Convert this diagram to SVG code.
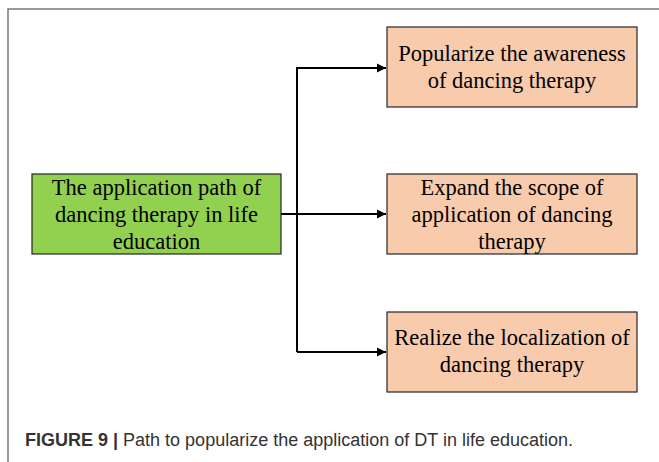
<svg xmlns="http://www.w3.org/2000/svg" width="659" height="462" viewBox="0 0 659 462">
<style>
.peach{fill:#F8CBAD;stroke:#262626;stroke-width:1.2}
.green{fill:#92D050;stroke:#262626;stroke-width:1.2}
.t{font-family:"Liberation Serif","Times New Roman",serif;font-size:22.5px;fill:#000;text-anchor:middle}
.c{stroke:#000;stroke-width:2;fill:none}
.cap{font-family:"Liberation Sans",Arial,sans-serif;font-size:18px;fill:#333}
</style>
<defs>
<marker id="ah" markerWidth="10" markerHeight="10" refX="9" refY="5" orient="auto" markerUnits="userSpaceOnUse">
<path d="M0,0.5 L9,5 L0,9.5 Z" fill="#000"/>
</marker>
</defs>
<rect width="659" height="462" fill="#fff"/>
<path d="M8,462 V9 H659" fill="none" stroke="#777" stroke-width="1.5"/>
<g id="connectors">
<path class="c" d="M281,214 H386" marker-end="url(#ah)"/>
<path class="c" d="M297,352 V68 H386" marker-end="url(#ah)"/>
<path class="c" d="M297,352 H386" marker-end="url(#ah)"/>
</g>
<g id="root">
<rect class="green" x="32" y="174" width="249" height="80"/>
<text class="t" x="156.5" y="195">The application path of</text>
<text class="t" x="156.5" y="222">dancing therapy in life</text>
<text class="t" x="156.5" y="249">education</text>
</g>
<g id="n1">
<rect class="peach" x="387" y="27" width="250" height="80"/>
<text class="t" x="512" y="61">Popularize the awareness</text>
<text class="t" x="512" y="88">of dancing therapy</text>
</g>
<g id="n2">
<rect class="peach" x="387" y="174" width="250" height="80"/>
<text class="t" x="512" y="195">Expand the scope of</text>
<text class="t" x="512" y="222">application of dancing</text>
<text class="t" x="512" y="249">therapy</text>
</g>
<g id="n3">
<rect class="peach" x="387" y="312" width="250" height="80"/>
<text class="t" x="512" y="345">Realize the localization of</text>
<text class="t" x="512" y="372">dancing therapy</text>
</g>
<text class="cap" x="25" y="446"><tspan font-weight="bold">FIGURE 9 | </tspan>Path to popularize the application of DT in life education.</text>
</svg>
